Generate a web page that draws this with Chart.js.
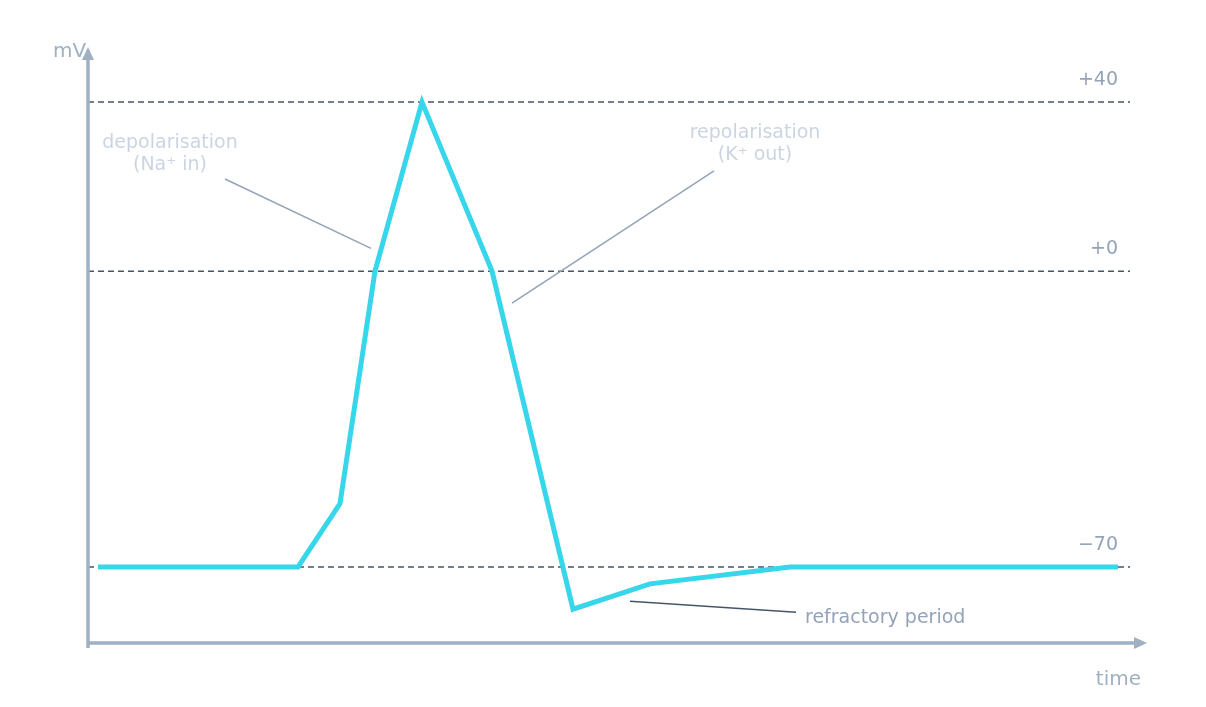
<!DOCTYPE html>
<html>
<head>
<meta charset="utf-8">
<script src="https://cdn.jsdelivr.net/npm/chart.js@4"></script>
<style>
  html, body { margin: 0; padding: 0; background: #ffffff; }
  #wrap { width: 1206px; height: 707px; position: relative; }
</style>
</head>
<body>
<div id="wrap"><canvas id="apChart"></canvas></div>
<script>
// Action potential trace (time in arbitrary units, voltage in mV)
const timePoints = [1, 21, 25.2, 28.7, 33.4, 40.4, 48.5, 56.2, 70.2, 103];
const voltage = [-70, -70, -55, 0, 40, 0, -80, -74, -70, -70];
const refLevels = [40, 0, -70];
const refLabels = ['+40', '+0', '\u221270'];

// Annotations: text position, leader line [from, to] in data units
const notes = [
  { lines: ['depolarisation', '(Na\u207A in)'], x: 8.2, y: 30.3, from: [13.7, 21.8], to: [28.3, 5.4], color: '#cbd5e1', lineColor: '#94a3b8', align: 'center' },
  { lines: ['repolarisation', '(K\u207A out)'], x: 66.7, y: 32.7, from: [62.6, 23.7], to: [42.4, -7.6], color: '#cbd5e1', lineColor: '#94a3b8', align: 'center' },
  { lines: ['refractory period'], x: 71.7, y: -82.1, from: [70.8, -80.7], to: [54.2, -78.1], color: '#94a3b8', lineColor: '#475569', align: 'left' }
];

const FONT = '19px "DejaVu Sans", sans-serif';

const decorPlugin = {
  id: 'decor',
  beforeDatasetsDraw(chart) {
    const { ctx, chartArea: a, scales: { x, y } } = chart;
    ctx.save();
    // dashed reference lines
    ctx.setLineDash([6, 4]);
    ctx.strokeStyle = '#475569';
    ctx.lineWidth = 1.5;
    refLevels.forEach((v, i) => {
      const py = y.getPixelForValue(v);
      ctx.beginPath();
      ctx.moveTo(a.left, py);
      ctx.lineTo(a.right - 15, py);
      ctx.stroke();
      ctx.fillStyle = '#94a3b8';
      ctx.font = FONT;
      ctx.textAlign = 'right';
      ctx.textBaseline = 'middle';
      ctx.fillText(refLabels[i], a.right - 27, py - 22);
    });
    ctx.setLineDash([]);
    // axes with arrows
    ctx.strokeStyle = '#9fb0c2';
    ctx.fillStyle = '#9fb0c2';
    ctx.lineWidth = 3.5;
    ctx.beginPath();
    ctx.moveTo(a.left, a.bottom + 5);
    ctx.lineTo(a.left, a.top + 6);
    ctx.moveTo(a.left, a.bottom);
    ctx.lineTo(a.right - 6, a.bottom);
    ctx.stroke();
    ctx.beginPath();
    ctx.moveTo(a.left, a.top - 1);
    ctx.lineTo(a.left - 6, a.top + 12);
    ctx.lineTo(a.left + 6, a.top + 12);
    ctx.fill();
    ctx.beginPath();
    ctx.moveTo(a.right + 2, a.bottom);
    ctx.lineTo(a.right - 11, a.bottom - 6);
    ctx.lineTo(a.right - 11, a.bottom + 6);
    ctx.fill();
    ctx.font = '20px "DejaVu Sans", sans-serif';
    ctx.textBaseline = 'middle';
    ctx.textAlign = 'left';
    ctx.fillText('mV', a.left - 35, a.top + 4);
    ctx.textAlign = 'right';
    ctx.fillText('time', a.right - 4, a.bottom + 37);
    // annotations
    ctx.lineWidth = 1.5;
    notes.forEach(n => {
      ctx.strokeStyle = n.lineColor;
      ctx.beginPath();
      ctx.moveTo(x.getPixelForValue(n.from[0]), y.getPixelForValue(n.from[1]));
      ctx.lineTo(x.getPixelForValue(n.to[0]), y.getPixelForValue(n.to[1]));
      ctx.stroke();
      ctx.fillStyle = n.color;
      ctx.font = FONT;
      ctx.textAlign = n.align;
      const px = x.getPixelForValue(n.x);
      const py = y.getPixelForValue(n.y);
      n.lines.forEach((t, i) => ctx.fillText(t, px, py + i * 22));
    });
    ctx.restore();
  }
};

new Chart(document.getElementById('apChart'), {
  type: 'line',
  data: {
    datasets: [{
      data: timePoints.map((t, i) => ({ x: t, y: voltage[i] })),
      borderColor: '#38d6ea',
      borderWidth: 5,
      pointRadius: 0,
      tension: 0,
      borderJoinStyle: 'miter'
    }]
  },
  options: {
    responsive: true,
    maintainAspectRatio: false,
    animation: false,
    layout: { padding: { left: 88, right: 61, top: 48, bottom: 64 } },
    scales: {
      x: { type: 'linear', min: 0, max: 105.7, display: false },
      y: { min: -88, max: 52.8, display: false }
    },
    plugins: { legend: { display: false }, tooltip: { enabled: false } }
  },
  plugins: [decorPlugin]
});
</script>
</body>
</html>
